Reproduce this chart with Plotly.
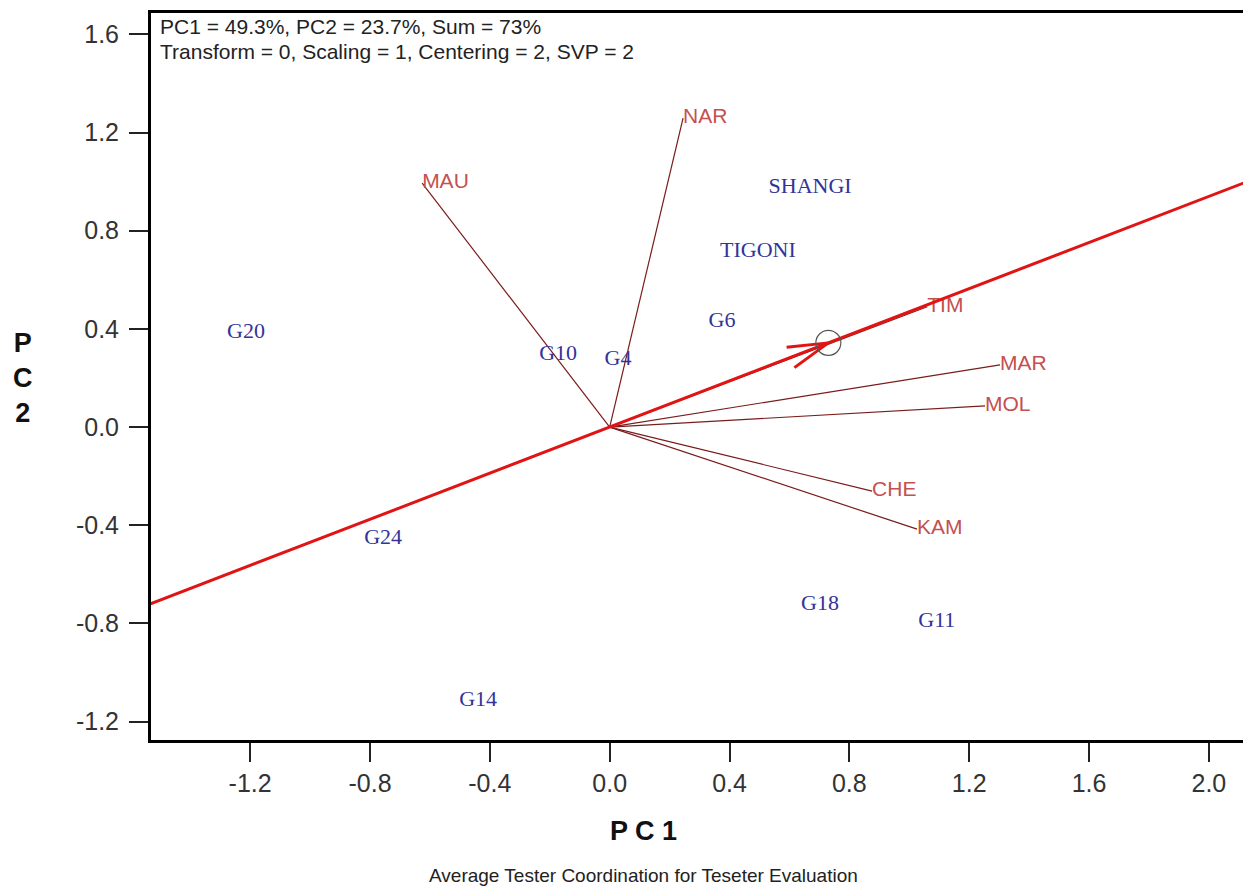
import math
import plotly.graph_objects as go

# ---------------- data ----------------
tester_names = ["NAR", "MAU", "TIM", "MAR", "MOL", "CHE", "KAM"]
tester_pc1 = [0.245, -0.626, 1.06, 1.303, 1.253, 0.876, 1.026]
tester_pc2 = [1.259, 0.994, 0.49, 0.253, 0.086, -0.261, -0.416]

geno_names = ["G20", "G10", "G4", "G6", "TIGONI", "SHANGI", "G24", "G18", "G11", "G14"]
geno_pc1 = [-1.214, -0.172, 0.028, 0.375, 0.495, 0.669, -0.756, 0.702, 1.092, -0.439]
geno_pc2 = [0.386, 0.294, 0.274, 0.429, 0.714, 0.978, -0.452, -0.724, -0.794, -1.116]

avg_env = (0.73, 0.343)

tick_vals = [-1.2, -0.8, -0.4, 0.0, 0.4, 0.8, 1.2, 1.6, 2.0]
ytick_vals = [-1.2, -0.8, -0.4, 0.0, 0.4, 0.8, 1.2, 1.6]

header1 = "PC1 = 49.3%, PC2 = 23.7%, Sum = 73%"
header2 = "Transform = 0, Scaling = 1, Centering = 2, SVP = 2"
caption = "Average Tester Coordination for Teseter Evaluation"

# ---------------- layout constants ----------------
W, H = 1243, 886
ML, MR, MT, MB = 151, 0, 13, 146
XR = [-1.531, 2.114]
YR = [-1.275, 1.687]
pw, ph = W - ML - MR, H - MT - MB
pxx = pw / (XR[1] - XR[0])
pxy = ph / (YR[1] - YR[0])

fig = go.Figure()

# tester vectors
lx, ly = [], []
for x, y in zip(tester_pc1, tester_pc2):
    lx += [0, x, None]
    ly += [0, y, None]
fig.add_trace(go.Scatter(x=lx, y=ly, mode="lines",
                         line=dict(color="#7a1c1c", width=1.2),
                         hoverinfo="skip", showlegend=False))

# tester labels
fig.add_trace(go.Scatter(x=tester_pc1, y=tester_pc2, mode="text", text=tester_names,
                         textposition="middle right",
                         textfont=dict(family="Arial", size=21, color="#c4504f"),
                         showlegend=False))

# genotype labels
fig.add_trace(go.Scatter(x=geno_pc1, y=geno_pc2, mode="text", text=geno_names,
                         textposition="middle center",
                         textfont=dict(family="Times New Roman", size=22, color="#33339a"),
                         showlegend=False))

# ATC abscissa line through origin and average environment
ax, ay = avg_env
fig.add_trace(go.Scatter(x=[-5 * ax, 5 * ax], y=[-5 * ay, 5 * ay], mode="lines",
                         line=dict(color="#e01414", width=3),
                         hoverinfo="skip", showlegend=False))

# arrow barbs at average environment
dxp, dyp = ax * pxx, ay * pxy
L = math.hypot(dxp, dyp)
ux, uy = -dxp / L, -dyp / L
bx, by = [], []
for ang in (15, -15):
    a = math.radians(ang)
    rx = ux * math.cos(a) - uy * math.sin(a)
    ry = ux * math.sin(a) + uy * math.cos(a)
    bx += [ax, ax + rx * 42 / pxx, None]
    by += [ay, ay + ry * 42 / pxy, None]
fig.add_trace(go.Scatter(x=bx, y=by, mode="lines",
                         line=dict(color="#e01414", width=3),
                         hoverinfo="skip", showlegend=False))

# average environment circle
fig.add_trace(go.Scatter(x=[ax], y=[ay], mode="markers",
                         marker=dict(symbol="circle-open", size=25, color="#555555",
                                     line=dict(width=1.2, color="#555555")),
                         hoverinfo="skip", showlegend=False))

def px_to_paper_x(px):
    return (px - ML) / pw

def py_to_paper_y(py):
    return 1 - (py - MT) / ph

annotations = [
    dict(text=header1, x=px_to_paper_x(158), y=py_to_paper_y(27), xref="paper", yref="paper",
         xanchor="left", yanchor="middle", showarrow=False,
         font=dict(family="Arial", size=21, color="#222222")),
    dict(text=header2, x=px_to_paper_x(158), y=py_to_paper_y(52), xref="paper", yref="paper",
         xanchor="left", yanchor="middle", showarrow=False,
         font=dict(family="Arial", size=21, color="#222222")),
    dict(text="P C 1", x=px_to_paper_x(643), y=py_to_paper_y(831), xref="paper", yref="paper",
         xanchor="center", yanchor="middle", showarrow=False,
         font=dict(family="Arial", size=27, color="#111111", weight="bold")),
    dict(text=caption, x=px_to_paper_x(643), y=py_to_paper_y(875), xref="paper", yref="paper",
         xanchor="center", yanchor="middle", showarrow=False,
         font=dict(family="Arial", size=19, color="#222222")),
    dict(text="P<br>C<br>2", x=px_to_paper_x(23), y=py_to_paper_y(378), xref="paper", yref="paper",
         xanchor="center", yanchor="middle", showarrow=False, align="center",
         font=dict(family="Arial", size=27, color="#111111", weight="bold")),
]

fig.update_layout(
    width=W, height=H,
    margin=dict(l=ML, r=MR, t=MT, b=MB, pad=0),
    paper_bgcolor="white", plot_bgcolor="white",
    showlegend=False,
    annotations=annotations,
    xaxis=dict(range=XR, tickvals=tick_vals, ticktext=[f"{v:.1f}" for v in tick_vals],
               showgrid=False, zeroline=False, showline=True, linecolor="black", linewidth=3,
               mirror=True, ticks="outside", ticklen=19, tickwidth=1.5, tickcolor="#222222",
               tickfont=dict(family="Arial", size=25, color="#333333"), ticklabelstandoff=0),
    yaxis=dict(range=YR, tickvals=ytick_vals, ticktext=[f"{v:.1f}" for v in ytick_vals],
               showgrid=False, zeroline=False, showline=True, linecolor="black", linewidth=3,
               ticks="outside", ticklen=19, tickwidth=1.5, tickcolor="#222222",
               tickfont=dict(family="Arial", size=25, color="#333333"), ticklabelstandoff=5),
)

fig.write_html("out.html")
